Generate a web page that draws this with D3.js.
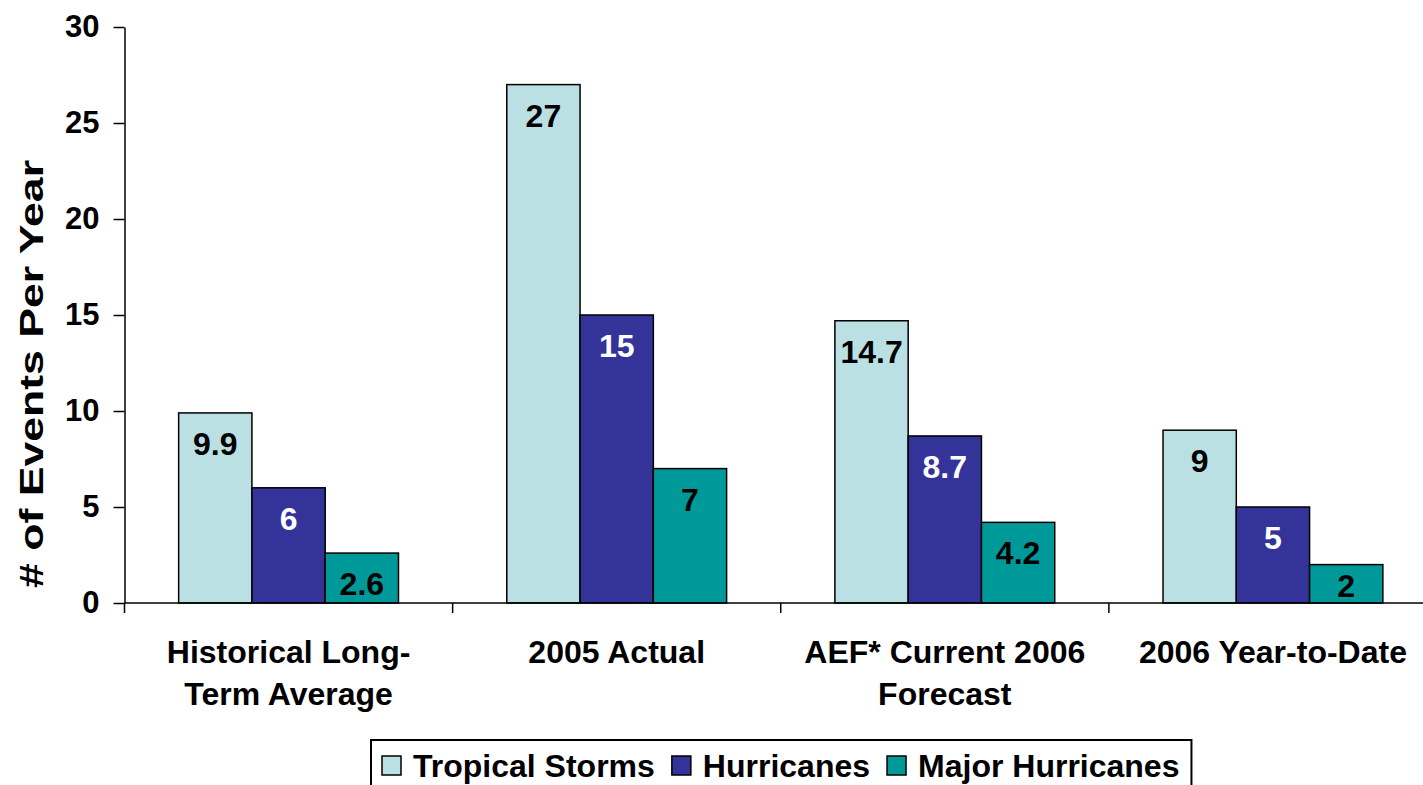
<!DOCTYPE html>
<html>
<head>
<meta charset="utf-8">
<script src="https://cdn.jsdelivr.net/npm/d3@7"></script>
<style>
  html, body { margin: 0; padding: 0; background: #fff; overflow: hidden; }
  svg { display: block; font-family: "Liberation Sans", Arial, Helvetica, sans-serif; font-weight: bold; }
</style>
</head>
<body>
<svg id="chart" width="1423" height="785"></svg>
<script>
// Storm counts per year by period
const categories = [
  ["Historical Long-", "Term Average"],
  ["2005 Actual"],
  ["AEF* Current 2006", "Forecast"],
  ["2006 Year-to-Date"]
];
const seriesNames = ["Tropical Storms", "Hurricanes", "Major Hurricanes"];
const tropicalStorms = [9.9, 27, 14.7, 9];
const hurricanes = [6, 15, 8.7, 5];
const majorHurricanes = [2.6, 7, 4.2, 2];
const yTicks = [0, 5, 10, 15, 20, 25, 30];
const seriesColors = ["#BBE0E3", "#333399", "#009999"];
const labelColors = ["#000", "#fff", "#000"];

const svg = d3.select("#chart");
const seriesValues = [tropicalStorms, hurricanes, majorHurricanes];
const catKeys = categories.map((c, i) => i);

const plot = { left: 124.5, right: 1437, top: 27, bottom: 603 };

const x0 = d3.scaleBand()
  .domain(catKeys)
  .range([plot.left, plot.right])
  .paddingInner(0.33)
  .paddingOuter(0.165);
const x1 = d3.scaleBand()
  .domain(d3.range(seriesNames.length))
  .range([0, x0.bandwidth()]);
const y = d3.scaleLinear().domain([0, 30]).range([plot.bottom, plot.top]);

// Bars
const groups = svg.append("g").selectAll("g")
  .data(catKeys)
  .join("g")
  .attr("transform", c => `translate(${x0(c)},0)`);

groups.selectAll("rect")
  .data(c => seriesValues.map((vals, s) => ({ s, v: vals[c] })))
  .join("rect")
  .attr("x", d => x1(d.s))
  .attr("y", d => y(d.v))
  .attr("width", x1.bandwidth())
  .attr("height", d => y(0) - y(d.v))
  .attr("fill", d => seriesColors[d.s])
  .attr("stroke", "#000")
  .attr("stroke-width", 1.5);

// Value labels inside the top of each bar
groups.selectAll("text")
  .data(c => seriesValues.map((vals, s) => ({ s, v: vals[c] })))
  .join("text")
  .attr("x", d => x1(d.s) + x1.bandwidth() / 2)
  .attr("y", d => Math.min(y(d.v) + 42, y(0) - 6))
  .attr("text-anchor", "middle")
  .attr("font-size", 32)
  .attr("fill", d => labelColors[d.s])
  .text(d => d.v);

// Y axis
const yAxis = svg.append("g")
  .attr("transform", `translate(${plot.left},0)`)
  .call(d3.axisLeft(y).tickValues(yTicks).tickSize(11).tickPadding(14).tickSizeOuter(0));
yAxis.select(".domain").attr("stroke", "#000").attr("stroke-width", 1.5);
yAxis.selectAll(".tick line").attr("stroke", "#000").attr("stroke-width", 1.5);
yAxis.selectAll(".tick text")
  .attr("font-size", 31)
  .attr("font-family", "Liberation Sans, Arial, sans-serif")
  .attr("font-weight", "bold")
  .attr("fill", "#000");

// X axis baseline with ticks at category boundaries
const xAxisG = svg.append("g");
xAxisG.append("line")
  .attr("x1", plot.left).attr("x2", 1423)
  .attr("y1", y(0)).attr("y2", y(0))
  .attr("stroke", "#000").attr("stroke-width", 1.5);
const step = x0.step();
const boundaries = d3.range(categories.length).map(i => plot.left + i * step);
xAxisG.selectAll("line.tick")
  .data(boundaries)
  .join("line")
  .attr("class", "tick")
  .attr("x1", d => d).attr("x2", d => d)
  .attr("y1", y(0)).attr("y2", y(0) + 10)
  .attr("stroke", "#000").attr("stroke-width", 1.5);

// Category labels
const catLabels = svg.append("g").selectAll("text")
  .data(catKeys)
  .join("text")
  .attr("x", c => x0(c) + x0.bandwidth() / 2)
  .attr("y", 663)
  .attr("text-anchor", "middle")
  .attr("font-size", 32)
  .attr("fill", "#000");
catLabels.selectAll("tspan")
  .data(c => categories[c].map((line, i) => ({ line, i, c })))
  .join("tspan")
  .attr("x", d => x0(d.c) + x0.bandwidth() / 2)
  .attr("dy", d => d.i === 0 ? 0 : 42)
  .text(d => d.line);

// Y axis title
svg.append("text")
  .attr("transform", `translate(43,374) rotate(-90)`)
  .attr("text-anchor", "middle")
  .attr("font-size", 34)
  .attr("textLength", 428)
  .attr("lengthAdjust", "spacingAndGlyphs")
  .attr("fill", "#000")
  .text("# of Events Per Year");

// Legend
const legend = svg.append("g");
const legendBox = legend.append("rect")
  .attr("x", 371).attr("y", 740)
  .attr("height", 70)
  .attr("fill", "#fff")
  .attr("stroke", "#000").attr("stroke-width", 2);
let lx = 382;
seriesNames.forEach((name, s) => {
  legend.append("rect")
    .attr("x", lx).attr("y", 756)
    .attr("width", 19).attr("height", 19)
    .attr("fill", seriesColors[s])
    .attr("stroke", "#000").attr("stroke-width", 1.5);
  const t = legend.append("text")
    .attr("x", lx + 31).attr("y", 777)
    .attr("font-size", 32)
    .attr("fill", "#000")
    .text(name);
  lx += 31 + t.node().getComputedTextLength() + 17;
});
legendBox.attr("width", lx - 17 + 12 - 371);
</script>
</body>
</html>
